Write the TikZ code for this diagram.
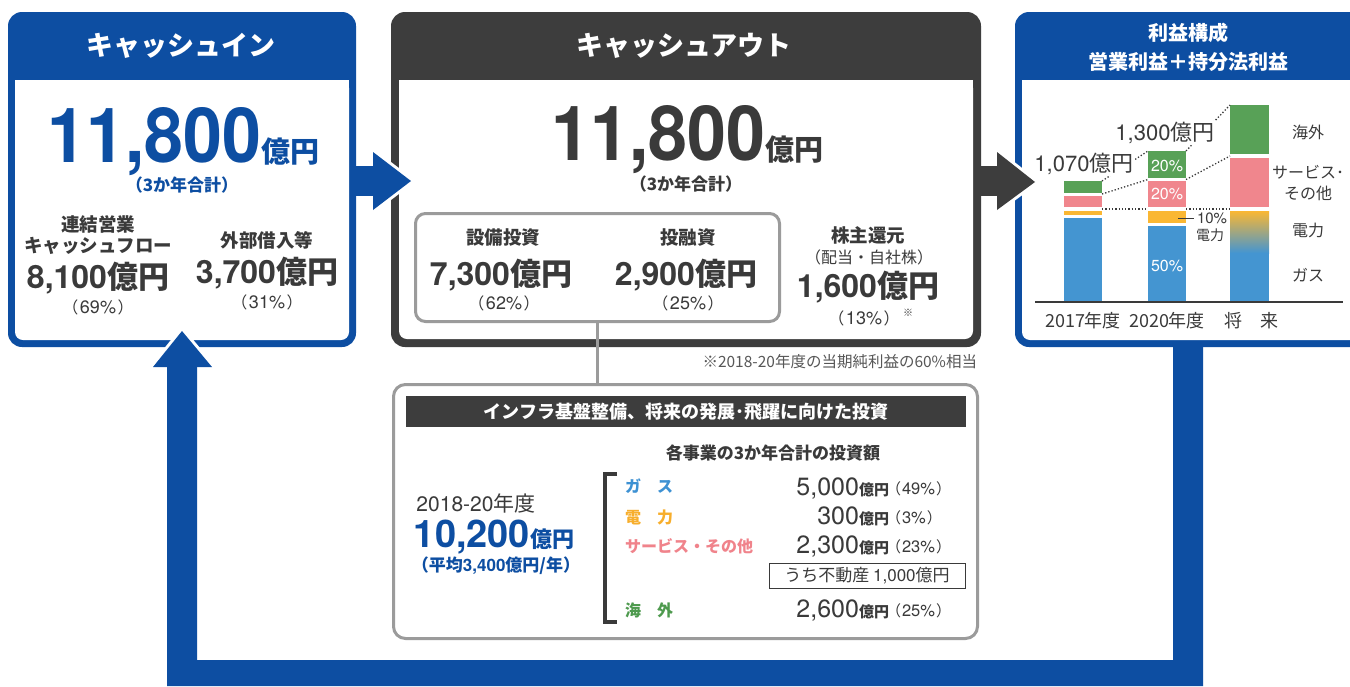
\documentclass[tikz,border=0pt]{standalone}
\usepackage{fontspec}
\usepackage{graphicx}
\setmainfont{Noto Sans CJK JP}
\newfontfamily\hv{TeX Gyre Heros}
\definecolor{cblue}{HTML}{0D4EA2}
\definecolor{cdark}{HTML}{3D3D3D}
\definecolor{ctext}{HTML}{3A3A3A}
\definecolor{cgray}{HTML}{9B9B9B}
\definecolor{bblue}{HTML}{4495D1}
\definecolor{borange}{HTML}{FAB733}
\definecolor{bpink}{HTML}{F0868D}
\definecolor{bgreen}{HTML}{58A157}
\definecolor{tblue}{HTML}{3D91D3}
\definecolor{torange}{HTML}{F7AE2C}
\definecolor{tpink}{HTML}{F0838B}
\definecolor{tgreen}{HTML}{4E9A4E}
\newcommand{\fs}[1]{\fontsize{#1}{#1}\selectfont}
\newcommand{\bignum}[1]{\scalebox{0.92}[1]{\hv\bfseries\fs{76}#1}{\bfseries\fs{29}億円}}
\newcommand{\midnum}[1]{{\hv\bfseries\fs{32}#1}{\bfseries\fs{31}億円}}
\newcommand{\pc}[1]{{\fs{16}（}\kern1.5pt{\hv\fs{18}#1\%}\kern1.5pt{\fs{16}）}}
\newcommand{\pcs}[1]{{\fs{15}（}\kern1pt{\hv\fs{16.5}#1\%}\kern1pt{\fs{15}）}}
\begin{document}
\begin{tikzpicture}[x=1pt,y=-1pt,
  every node/.style={inner sep=0pt, outer sep=0pt, text=ctext},
  halo/.style={white, line width=6, line join=round},
  dots/.style={ctext, line width=1.3, dotted},
  lbl/.style={font=\bfseries\fs{18.5}},
  pct/.style={},
  cat/.style={anchor=west, font=\bfseries\fs{16}},
  val/.style={anchor=base east},
  vpc/.style={anchor=base west},
  leg/.style={font=\fs{16}},
  inbar/.style={text=white, font=\hv\fs{16}},
  axl/.style={font=\fs{18}}]
\useasboundingbox (0,0) rectangle (1350,686);
\fill[white] (0,0) rectangle (1350,686);

% ---------- boxes ----------
\fill[cblue, rounded corners=14] (8,12) rectangle (356,347);
\fill[white, rounded corners=8] (15,80) rectangle (349,340);
\fill[white] (15,80) rectangle (349,92);

\fill[cdark, rounded corners=14] (391,12) rectangle (981,347);
\fill[white, rounded corners=8] (399,80) rectangle (973,339);
\fill[white] (399,80) rectangle (973,92);

\fill[cblue, rounded corners=14] (1015,12) rectangle (1390,347);
\fill[white, rounded corners=8] (1022,80) rectangle (1383,340);
\fill[white] (1022,80) rectangle (1383,92);

% ---------- arrows ----------
\draw[halo] (373,152) -- (411,181) -- (373,210) -- cycle;
\draw[halo] (997,152) -- (1035,182) -- (997,210) -- cycle;
\draw[halo] (153,367) -- (182,331) -- (212,367) -- cycle;
\fill[cblue] (354,166) rectangle (375,196);
\fill[cblue] (373,152) -- (411,181) -- (373,210) -- cycle;
\fill[cdark] (979,166) rectangle (999,196);
\fill[cdark] (997,152) -- (1035,182) -- (997,210) -- cycle;
\fill[cblue] (167,366) -- (167,686) -- (1203,686) -- (1203,344) -- (1173,344)
  -- (1173,660) -- (197,660) -- (197,366) -- cycle;
\fill[cblue] (153,367) -- (182,331) -- (212,367) -- cycle;

% ---------- left box ----------
\node[font=\bfseries\fs{27}, text=white] (ltitle) at (181,46) {キャッシュイン};
\node[anchor=base, text=cblue] (lnum) at (183.5,162) {\bignum{11,800}};
\node[text=cblue, font=\bfseries\fs{17}] (lsub) at (182,185) {（3か年合計）};
\node[font=\bfseries\fontsize{18.5}{20.5}\selectfont, align=center] (lcf) at (98,235) {連結営業\\キャッシュフロー};
\node (lcfv) at (98,278) {\midnum{8,100}};
\node[pct] (lcfp) at (98,307) {\pc{69}};
\node[lbl] (lbr) at (267,240) {外部借入等};
\node (lbrv) at (267,273) {\midnum{3,700}};
\node[pct] (lbrp) at (267,302) {\pc{31}};

% ---------- middle box ----------
\node[font=\bfseries\fs{27}, text=white] (mtitle) at (684,46) {キャッシュアウト};
\node[anchor=base] (mnum) at (687.5,160) {\bignum{11,800}};
\node[font=\bfseries\fs{17}] (msub) at (686,184) {（3か年合計）};
\node[draw=cgray, line width=3, rounded corners=10, minimum width=364, minimum height=108,
  anchor=north west] (invbox) at (415.5,213.5) {};
\node[lbl] (capex) at (503,238) {設備投資};
\node (capexv) at (501,275) {\midnum{7,300}};
\node[pct] (capexp) at (504,303) {\pc{62}};
\node[lbl] (inv) at (688,238) {投融資};
\node (invv) at (686,275) {\midnum{2,900}};
\node[pct] (invp) at (688,303) {\pc{25}};
\node[lbl] (sh) at (868,235) {株主還元};
\node[font=\fs{16}] (shs) at (869,257) {（配当・自社株）};
\node (shv) at (868,287) {\midnum{1,600}};
\node[pct] (shp) at (864,318) {\pc{13}};
\node[font=\fs{10}] (shm) at (908,313) {※};
\node[anchor=east, font=\fs{15.5}, text=ctext!85] (note) at (977,362) {※2018-20年度の当期純利益の60\%相当};

% ---------- right box ----------
\node[font=\bfseries\fontsize{20}{29}\selectfont, text=white, align=center] (rtitle) at (1188,47) {利益構成\\営業利益＋持分法利益};
% bars 2017
\fill[bblue] (1064,218) rectangle (1102,302);
\fill[borange] (1064,211) rectangle (1102,215);
\fill[bpink] (1064,196) rectangle (1102,207);
\fill[bgreen] (1064,181) rectangle (1102,193);
% bars 2020
\fill[bblue] (1148,226) rectangle (1186,302);
\fill[borange] (1148,211) rectangle (1186,223);
\fill[bpink] (1148,181) rectangle (1186,207);
\fill[bgreen] (1148,151) rectangle (1186,178);
% future
\fill[bblue] (1230,252) rectangle (1269,302);
\shade[top color=borange, bottom color=bblue] (1230,211) rectangle (1269,253);
\fill[bpink] (1230,158) rectangle (1269,207);
\fill[bgreen] (1230,105) rectangle (1269,154);
% axis
\draw[ctext, line width=2] (1035,302) -- (1343,302);
% dotted guides
\draw[dots] (1102,181) -- (1148,151);
\draw[dots] (1186,151) -- (1230,105);
\draw[dots] (1102,194) -- (1148,179.5);
\draw[dots] (1186,179.5) -- (1230,156);
\draw[dots] (1102,209) -- (1148,209);
\draw[dots] (1186,209) -- (1230,209);
% labels
\node[fill=white, inner sep=1pt] (t17) at (1084,164) {{\hv\fs{22}1,070}{\fs{22}億円}};
\node[fill=white, inner sep=1pt] (t20) at (1165,133) {{\hv\fs{22}1,300}{\fs{22}億円}};
\node[inbar] (g20) at (1167,166) {20\%};
\node[inbar] (p20) at (1167,194) {20\%};
\node[inbar] (b20) at (1167,266) {50\%};
\coordinate (tk1) at (1178,218);
\coordinate (tk2) at (1194,218);
\draw[ctext, line width=1] (tk1) -- (tk2);
\node[font=\hv\fs{15}] (e10) at (1212,218) {10\%};
\node[font=\fs{14}] (e10b) at (1210,235) {電力};
\node[leg] (lg1) at (1308,132) {海外};
\node[leg, align=center, font=\fontsize{16}{20.5}\selectfont] (lg2) at (1308,183) {サービス･\\その他};
\node[leg] (lg3) at (1308,230) {電力};
\node[leg] (lg4) at (1308,275) {ガス};
\node[axl] (a17) at (1083,321) {2017年度};
\node[axl] (a20) at (1167,321) {2020年度};
\node[axl] (afu) at (1251,321) {将　来};

% ---------- bottom box ----------
\node[draw=cgray, line width=3, rounded corners=12, minimum width=584, minimum height=254,
  anchor=north west] (detail) at (393.5,384.5) {};
\draw[cgray, line width=2.5] (invbox.south) -- (invbox.south |- detail.north);
\node[fill=cdark, minimum width=560, minimum height=31, anchor=north west, text=white,
  font=\bfseries\fs{18}] (bar) at (406,396) {インフラ基盤整備、将来の発展･飛躍に向けた投資};
\node[font=\bfseries\fs{17}] (each) at (773,453) {各事業の3か年合計の投資額};
\node[font=\fs{21}] (yr) at (476,503) {{\hv 2018-20}年度};
\node[anchor=base, text=cblue] (tot) at (494,547) {{\hv\bfseries\fs{38}10,200}{\bfseries\fs{22}億円}};
\node[text=cblue, font=\bfseries\fs{17}] (avg) at (496,566) {（平均{\hv 3,400}億円/年）};
\draw[ctext, line width=3.5] (617,474) -- (605,474) -- (605,622) -- (617,622);
\node[cat, text=tblue] (cg) at (625,486) {ガ　ス};
\node[cat, text=torange] (ce) at (625,517) {電　力};
\node[cat, text=tpink] (cs) at (625,546) {サービス・その他};
\node[cat, text=tgreen] (co) at (625,610) {海　外};
\node[val] (vg) at (889,495) {{\hv\fs{25}5,000}{\bfseries\fs{15}億円}};
\node[vpc] (pg) at (886,494) {\pcs{49}};
\node[val] (ve) at (889,524) {{\hv\fs{25}300}{\bfseries\fs{15}億円}};
\node[vpc] (pe) at (886,523) {\pcs{3}};
\node[val] (vs) at (889,553) {{\hv\fs{25}2,300}{\bfseries\fs{15}億円}};
\node[vpc] (ps) at (886,552) {\pcs{23}};
\node[draw=ctext, line width=1, minimum width=196, minimum height=25, font=\fs{17}] (re) at (867,576) {うち不動産 {\hv 1,000}億円};
\node[val] (vo) at (889,617) {{\hv\fs{25}2,600}{\bfseries\fs{15}億円}};
\node[vpc] (po) at (886,616) {\pcs{25}};
\end{tikzpicture}
\end{document}
